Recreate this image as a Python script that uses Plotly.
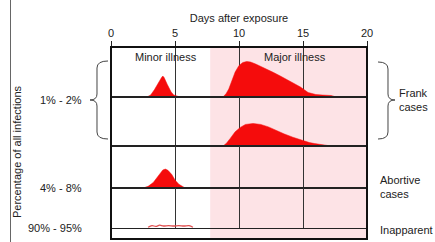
import plotly.graph_objects as go
from plotly.subplots import make_subplots

# ---- data (days after exposure, relative height within row) ----
tick_days = [0, 5, 10, 15, 20]
tick_labels = ["0", "5", "10", "15", "20"]

frank1_minor_x = [2.8, 3.1, 3.4, 3.7, 3.95, 4.05, 4.15, 4.4, 4.7, 4.9, 5.1, 5.4]
frank1_minor_y = [0.0, 0.04, 0.15, 0.29, 0.39, 0.42, 0.39, 0.25, 0.1, 0.04, 0.02, 0.0]

frank1_major_x = [8.75, 9.0, 9.2, 9.45, 9.7, 10.0, 10.3, 10.6, 10.9, 11.3, 12.0, 12.7, 13.3, 14.0, 14.8, 15.4, 16.0, 16.5, 17.2, 17.6]
frank1_major_y = [0.0, 0.07, 0.16, 0.32, 0.5, 0.63, 0.69, 0.71, 0.7, 0.66, 0.58, 0.49, 0.41, 0.31, 0.2, 0.09, 0.05, 0.04, 0.03, 0.0]

frank2_major_x = [8.75, 9.0, 9.3, 9.7, 10.1, 10.5, 11.1, 11.7, 12.3, 12.8, 13.5, 14.2, 15.0, 15.5, 15.9, 16.5, 17.2]
frank2_major_y = [0.0, 0.05, 0.15, 0.29, 0.38, 0.44, 0.46, 0.44, 0.39, 0.33, 0.25, 0.18, 0.11, 0.07, 0.05, 0.02, 0.0]

abortive_x = [2.5, 2.9, 3.3, 3.6, 3.85, 4.05, 4.25, 4.45, 4.75, 5.0, 5.3, 5.8]
abortive_y = [0.0, 0.04, 0.13, 0.25, 0.36, 0.43, 0.45, 0.42, 0.32, 0.19, 0.09, 0.0]

inapparent_x = [2.9, 3.2, 3.5, 3.8, 4.1, 4.5, 4.9, 5.3, 5.7, 6.1, 6.4]
inapparent_y = [0.02, 0.06, 0.04, 0.07, 0.05, 0.06, 0.05, 0.06, 0.05, 0.06, 0.02]

major_start_day = 7.75
row_heights = [50, 49, 42, 40, 11]

RED = "#f50c0c"
PINK = "#fde3e6"
FONT = "Liberation Sans, Arial, sans-serif"
TXT = "#222222"

W, H = 435, 242
ML, MR, MT, MB = 111, 68, 47, 3
PW, PH = W - ML - MR, H - MT - MB


def px(xp):
    return (xp - ML) / PW


def py(yp):
    return (H - MB - yp) / PH


fig = make_subplots(rows=5, cols=1, vertical_spacing=0, row_heights=row_heights)

fill_kw = dict(mode="lines", fill="tozeroy", fillcolor=RED,
               line=dict(color=RED, width=0.5), hoverinfo="skip", showlegend=False)
fig.add_trace(go.Scatter(x=frank1_minor_x, y=frank1_minor_y, **fill_kw), row=1, col=1)
fig.add_trace(go.Scatter(x=frank1_major_x, y=frank1_major_y, **fill_kw), row=1, col=1)
fig.add_trace(go.Scatter(x=frank2_major_x, y=frank2_major_y, **fill_kw), row=2, col=1)
fig.add_trace(go.Scatter(x=abortive_x, y=abortive_y, **fill_kw), row=3, col=1)
fig.add_trace(go.Scatter(x=inapparent_x, y=inapparent_y, mode="lines", line=dict(color="#e05050", width=1.3, shape="spline"),
                         hoverinfo="skip", showlegend=False), row=4, col=1)

for r in range(1, 6):
    xa = dict(range=[0, 20], tickvals=tick_days, ticktext=tick_labels, showgrid=True, gridcolor="#333333",
              gridwidth=1, zeroline=False, showline=True, mirror=True, linecolor="#222222", linewidth=1,
              showticklabels=False, ticks="")
    if r == 1:
        xa.update(side="top", showticklabels=True, ticks="outside", ticklen=5, tickcolor="#222222",
                  tickfont=dict(family=FONT, size=11, color=TXT),
                  title=dict(text="Days after exposure", font=dict(family=FONT, size=11, color=TXT), standoff=1))
    fig.update_xaxes(row=r, col=1, **xa)
    fig.update_yaxes(row=r, col=1, range=[0, 1], showgrid=False, zeroline=False, showticklabels=False,
                     ticks="", showline=True, mirror=True, linecolor="#222222", linewidth=1)

shapes = []
# pink "major illness" band
shapes.append(dict(type="rect", xref="x", yref="paper", x0=major_start_day, x1=20, y0=0, y1=1,
                   fillcolor=PINK, line=dict(width=0), layer="below"))
# outer border
shapes.append(dict(type="rect", xref="paper", yref="paper", x0=0, x1=1, y0=0, y1=1,
                   line=dict(color="#111111", width=2), layer="above"))
# far-left vertical rule
shapes.append(dict(type="line", xref="paper", yref="paper", x0=px(10.5), x1=px(10.5), y0=py(0), y1=py(242),
                   line=dict(color="#666666", width=1)))


def brace(pts):
    s = ""
    for cmd, coords in pts:
        s += cmd + " " + " ".join(f"{px(a):.4f},{py(b):.4f}" for a, b in coords) + " "
    return s.strip()


left_brace = brace([("M", [(108, 61)]), ("Q", [(97, 61), (97, 68)]), ("L", [(97, 94)]),
                    ("Q", [(97, 100), (90, 100)]), ("Q", [(97, 100), (97, 106)]), ("L", [(97, 132)]),
                    ("Q", [(97, 139), (108, 139)])])
right_brace = brace([("M", [(378, 62)]), ("Q", [(388, 62), (388, 69)]), ("L", [(388, 94)]),
                     ("Q", [(388, 100), (395, 100)]), ("Q", [(388, 100), (388, 106)]), ("L", [(388, 132)]),
                     ("Q", [(388, 139), (378, 139)])])
for p in (left_brace, right_brace):
    shapes.append(dict(type="path", xref="paper", yref="paper", path=p, line=dict(color="#444444", width=1)))

ann_font = dict(family=FONT, size=11, color=TXT)


def pann(text, xp, yp, xanchor="center", **kw):
    return dict(text=text, x=px(xp), y=py(yp), xref="paper", yref="paper", xanchor=xanchor,
                yanchor="middle", showarrow=False, font=ann_font, **kw)


annotations = [
    dict(text="Minor illness", x=4.3, y=0.8, xref="x", yref="y domain", xanchor="center", yanchor="middle",
         showarrow=False, font=ann_font),
    dict(text="Major illness", x=14.4, y=0.8, xref="x", yref="y domain", xanchor="center", yanchor="middle",
         showarrow=False, font=ann_font),
    pann("Percentage of all infections", 17, 152, textangle=-90),
    pann("1% - 2%", 84, 100, xanchor="right"),
    pann("4% - 8%", 84, 188, xanchor="right"),
    pann("90% - 95%", 84, 228, xanchor="right"),
    pann("Frank<br>cases", 397, 100, xanchor="left", align="left"),
    pann("Abortive<br>cases", 378, 187, xanchor="left", align="left"),
    pann("Inapparent", 378, 230, xanchor="left"),
]

fig.update_layout(width=W, height=H, margin=dict(l=ML, r=MR, t=MT, b=MB, pad=0),
                  paper_bgcolor="white", plot_bgcolor="rgba(0,0,0,0)", showlegend=False,
                  shapes=shapes, annotations=annotations, font=dict(family=FONT, size=11, color=TXT))

fig.write_html("out.html", config={"displayModeBar": False},
               post_script="document.body.style.margin='0';document.body.style.overflow='hidden';")
